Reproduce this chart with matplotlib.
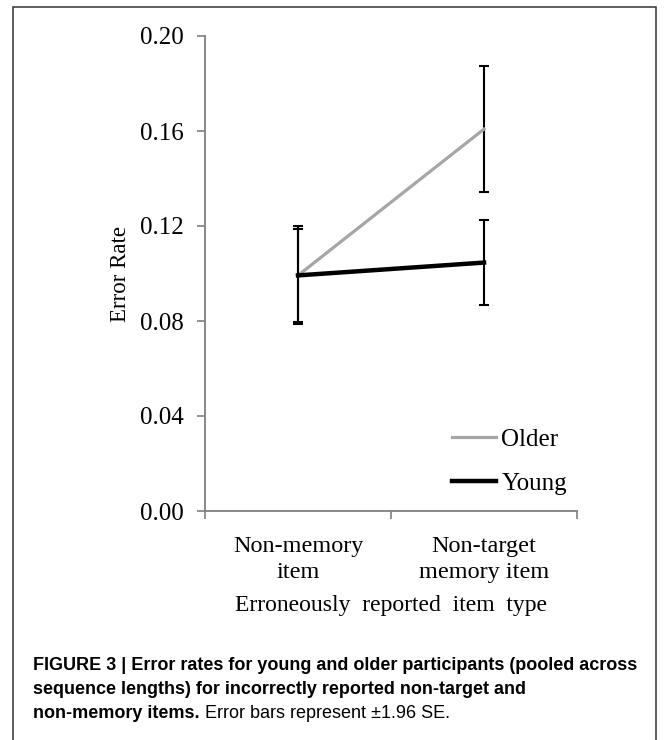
import matplotlib
matplotlib.use('Agg')
import matplotlib.pyplot as plt
from matplotlib.patches import Rectangle

# data
categories = ["Non-memory\nitem", "Non-target\nmemory item"]
older_rate = [0.0992, 0.1608]
older_err = [0.0195, 0.0266]
young_rate = [0.0992, 0.1046]
young_err = [0.0206, 0.0178]
y_ticks = [0.00, 0.04, 0.08, 0.12, 0.16, 0.20]

SERIF = ['Liberation Serif', 'DejaVu Serif']
CAPTION = ['Liberation Sans Narrow', 'Liberation Sans', 'DejaVu Sans']
AXIS_GRAY = '#7f7f7f'

fig = plt.figure(figsize=(6.69, 7.40), dpi=100)

# outer frame of the figure panel (bottom runs off the page)
fig.patches.append(Rectangle((13 / 669, -0.01), (656 - 13) / 669, 1 - 7 / 740 + 0.01,
                             transform=fig.transFigure, fill=False,
                             edgecolor='#333333', linewidth=1.1))

ax = fig.add_axes([205 / 669, 1 - 511 / 740, (577 - 205) / 669, (511 - 36) / 740])

xpos = [0.5, 1.5]
ax.errorbar(xpos, older_rate, yerr=older_err, color='#a6a6a6', lw=2.3,
            ecolor='black', elinewidth=1.5, capsize=3.6, capthick=1.5, label='Older', zorder=2)
ax.errorbar(xpos, young_rate, yerr=young_err, color='black', lw=3.2,
            ecolor='black', elinewidth=1.5, capsize=3.6, capthick=1.5, label='Young', zorder=3)

ax.set_xlim(0, 2)
ax.set_ylim(0, 0.20)
ax.set_yticks(y_ticks)
ax.set_yticklabels([f"{v:.2f}" for v in y_ticks], family=SERIF, fontsize=18)
ax.set_xticks([0, 1, 2])
ax.set_xticklabels([])
ax.set_xticks(xpos, minor=True)
ax.set_xticklabels(categories, minor=True, family=SERIF, fontsize=17.5, linespacing=1.3)
ax.tick_params(axis='x', which='minor', length=0, pad=18)
ax.tick_params(axis='both', which='major', length=6, width=1.2, color=AXIS_GRAY, pad=9)

for s in ['top', 'right']:
    ax.spines[s].set_visible(False)
for s in ['left', 'bottom']:
    ax.spines[s].set_color(AXIS_GRAY)
    ax.spines[s].set_linewidth(1.3)

ax.set_ylabel("Error Rate", family=SERIF, fontsize=16.5, labelpad=7)
ax.set_xlabel("Erroneously  reported  item  type", family=SERIF, fontsize=17, labelpad=9)

handles, labels = ax.get_legend_handles_labels()
handles = [h[0] for h in handles]
leg = ax.legend(handles, labels, loc='upper left', bbox_to_anchor=(429 / 669, 1 - 406 / 740),
                bbox_transform=fig.transFigure, frameon=False, handlelength=1.76,
                handletextpad=0.24, labelspacing=0.86, prop={'family': SERIF, 'size': 18})

# caption
cap_lines = ["FIGURE 3 | Error rates for young and older participants (pooled across",
             "sequence lengths) for incorrectly reported non-target and",
             "non-memory items."]
x0 = 33 / 669
ys = [665, 690, 714]
last = None
for line, y in zip(cap_lines, ys):
    last = fig.text(x0, 1 - y / 740, line, family=CAPTION, fontweight='bold',
                    fontsize=13, va='center', ha='left')

fig.canvas.draw()
bb = last.get_window_extent()
fig.text(bb.x1 / fig.bbox.width + 5 / 669, 1 - ys[-1] / 740, "Error bars represent \u00b11.96 SE.",
         family=CAPTION, fontsize=13, va='center', ha='left')

fig.savefig("out.png", dpi=100)
